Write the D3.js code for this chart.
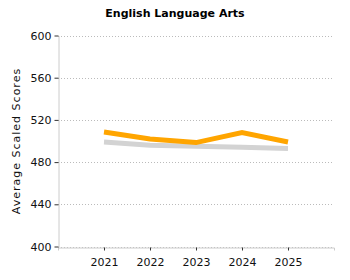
<!DOCTYPE html>
<html>
<head>
<meta charset="utf-8">
<script src="https://cdn.jsdelivr.net/npm/d3@7"></script>
<style>
body { margin: 0; background: #fff; }
text { font-family: Verdana, "DejaVu Sans", sans-serif; }
</style>
</head>
<body>
<script>
// data
var years = [2021, 2022, 2023, 2024, 2025];
var schoolScores = [508.5, 502, 498.5, 508, 499];
var stateScores = [499, 496, 495, 494, 493];
var yTicks = [400, 440, 480, 520, 560, 600];

var width = 350;
var height = 280;
var margin = {top: 35, right: 15, bottom: 33, left: 58};

var svg = d3.select("body")
    .append("svg")
    .attr("width", width)
    .attr("height", height);

var x = d3.scaleLinear()
    .domain([2020, 2026])
    .range([margin.left, width - margin.right - 1]);

var y = d3.scaleLinear()
    .domain([400, 600])
    .range([height - margin.bottom - 0.5, margin.top + 0.5]);

// gridlines
svg.append("g")
    .selectAll("line")
    .data(yTicks)
    .enter().append("line")
    .attr("x1", margin.left)
    .attr("x2", x(2026))
    .attr("y1", function(d) { return Math.round(y(d)) + 0.5; })
    .attr("y2", function(d) { return Math.round(y(d)) + 0.5; })
    .attr("stroke", "#bbb")
    .attr("stroke-dasharray", "1,2");

// x axis
var xAxis = svg.append("g")
    .attr("transform", "translate(0," + (Math.round(y(400)) + 0.5) + ")")
    .call(d3.axisBottom(x)
        .tickValues(years)
        .tickFormat(d3.format("d"))
        .tickSize(3)
        .tickSizeOuter(3));
xAxis.select(".domain").attr("stroke", "#ccc");
xAxis.selectAll(".tick line").attr("stroke", "#333");
xAxis.selectAll("text")
    .attr("font-size", 11)
    .attr("fill", "#111")
    .attr("dy", "1.1em");

// y axis
var yAxis = svg.append("g")
    .attr("transform", "translate(" + (margin.left + 0.5) + ",0)")
    .call(d3.axisLeft(y)
        .tickValues(yTicks)
        .tickSize(4)
        .tickSizeOuter(0));
yAxis.select(".domain").attr("stroke", "#ccc");
yAxis.selectAll(".tick line").attr("stroke", "#333");
yAxis.selectAll("text")
    .attr("font-size", 11)
    .attr("fill", "#111");

// lines
var line = d3.line()
    .x(function(d, i) { return x(years[i]); })
    .y(function(d) { return y(d); });

svg.append("path")
    .datum(stateScores)
    .attr("d", line)
    .attr("fill", "none")
    .attr("stroke", "#d3d3d3")
    .attr("stroke-width", 5);

svg.append("path")
    .datum(schoolScores)
    .attr("d", line)
    .attr("fill", "none")
    .attr("stroke", "#ffa500")
    .attr("stroke-width", 5);

// title
svg.append("text")
    .attr("x", 175)
    .attr("y", 17)
    .attr("text-anchor", "middle")
    .attr("font-size", 11)
    .attr("font-weight", "bold")
    .attr("fill", "#000")
    .text("English Language Arts");

// y label
svg.append("text")
    .attr("transform", "translate(20," + ((margin.top + height - margin.bottom) / 2) + ") rotate(-90)")
    .attr("text-anchor", "middle")
    .attr("font-size", 11)
    .attr("letter-spacing", 1)
    .attr("fill", "#111")
    .text("Average Scaled Scores");
</script>
</body>
</html>
